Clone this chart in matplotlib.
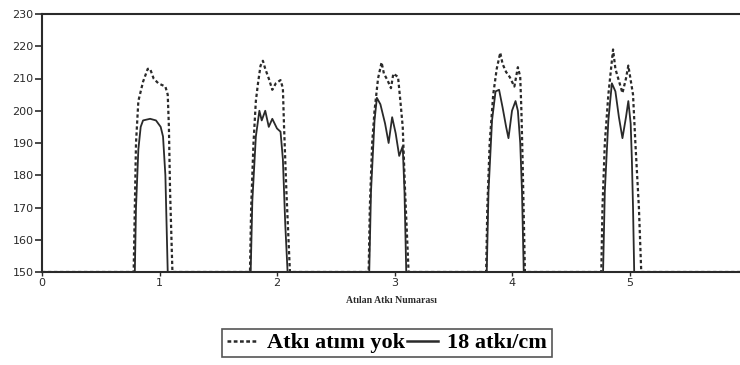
import matplotlib
matplotlib.use("Agg")
import matplotlib.pyplot as plt
from matplotlib.lines import Line2D

# Series: "Atkı atımı yok" (dashed)
x_yok = [0, 0.78, 0.79, 0.80, 0.82, 0.86, 0.90, 0.92, 0.95, 0.99, 1.05, 1.07, 1.08, 1.09, 1.11,
         1.77, 1.78, 1.80, 1.82, 1.84, 1.86, 1.88, 1.90, 1.93, 1.96, 1.99, 2.03, 2.05, 2.06, 2.08, 2.11,
         2.78, 2.79, 2.81, 2.83, 2.86, 2.89, 2.91, 2.94, 2.97, 2.99, 3.03, 3.05, 3.07, 3.09, 3.12,
         3.78, 3.79, 3.81, 3.84, 3.87, 3.90, 3.92, 3.95, 3.98, 4.02, 4.05, 4.07, 4.08, 4.09, 4.11,
         4.76, 4.77, 4.79, 4.82, 4.84, 4.86, 4.88, 4.90, 4.94, 4.97, 4.99, 5.01, 5.03, 5.05, 5.08, 5.10, 6.0]
y_yok = [150, 150, 170, 190, 203, 209, 213, 213, 210, 208.5, 207.5, 205, 195, 175, 150,
         150, 170, 190, 203, 209, 214, 215.5, 213, 210, 206.5, 208.5, 209.5, 207, 195, 175, 150,
         150, 170, 190, 200, 210, 215, 211.5, 209.5, 207, 211.5, 210.5, 203, 195, 175, 150,
         150, 170, 190, 205, 213, 218, 214.5, 212, 210.5, 207.5, 213.5, 210.5, 200, 185, 150,
         150, 170, 190, 205, 212, 219, 213, 210.5, 205.5, 210, 214, 209.5, 205, 190, 170, 150, 150]

# Series: "18 atkı/cm" (solid)
x_18 = [0, 0.79, 0.80, 0.82, 0.84, 0.86, 0.92, 0.97, 1.01, 1.03, 1.05, 1.07,
        1.776, 1.79, 1.82, 1.85, 1.87, 1.90, 1.93, 1.96, 2.00, 2.03, 2.05, 2.07, 2.09,
        2.785, 2.80, 2.83, 2.85, 2.88, 2.92, 2.95, 2.98, 3.01, 3.04, 3.07, 3.085, 3.10,
        3.785, 3.80, 3.83, 3.86, 3.89, 3.92, 3.95, 3.97, 4.00, 4.03, 4.05, 4.07, 4.085, 4.10,
        4.775, 4.79, 4.82, 4.85, 4.88, 4.91, 4.94, 4.97, 4.99, 5.01, 5.02, 5.03, 5.04, 6.0]
y_18 = [150, 150, 170, 188, 195, 197, 197.5, 197, 195, 192, 180, 150,
        150, 172, 192, 200, 197, 200, 195, 197.5, 194.5, 193.5, 185, 165, 150,
        150, 175, 197, 204, 202, 196, 190, 198, 193, 186, 189, 175, 150,
        150, 175, 197, 206, 206.5, 201, 195, 191.5, 200, 203, 200, 190, 175, 150,
        150, 175, 197, 208.5, 206, 198, 191.5, 198, 203, 196, 185, 170, 150, 150]

yticks = list(range(150, 231, 10))
xticks = [0, 1, 2, 3, 4, 5]
xlabel = "Atılan Atkı Numarası"
labels = ["Atkı atımı yok", "18 atkı/cm"]

ink = "#2a2a2a"
fig = plt.figure(figsize=(7.4, 3.65), dpi=100)
ax = fig.add_axes([42/740, 93/365, (740-42)/740, (272-14)/365])
ax.plot(x_yok, y_yok, color=ink, lw=1.6, linestyle=(0, (1.5, 1.2)))
ax.plot(x_18, y_18, color=ink, lw=1.3)
ax.set_xlim(0, (740-42)/117.5)
ax.set_ylim(150, 230)
ax.set_yticks(yticks)
ax.set_xticks(xticks)
ax.tick_params(axis="y", direction="out", length=5, width=1.2, color=ink, labelsize=8, labelcolor=ink, pad=1)
ax.tick_params(axis="x", direction="out", length=3, width=1.0, color=ink, labelsize=8, labelcolor=ink, pad=1)
for s in ["left", "bottom", "top"]:
    ax.spines[s].set_color(ink)
    ax.spines[s].set_linewidth(1.5)
ax.spines["right"].set_visible(False)
ax.set_xlabel(xlabel, fontsize=7, fontweight="bold", family="Liberation Serif", color=ink, labelpad=6)

handles = [Line2D([], [], color=ink, lw=1.8, linestyle=(0, (1.5, 1.0))),
           Line2D([], [], color=ink, lw=1.8)]
leg = fig.legend(handles, labels, loc="center", bbox_to_anchor=(387/740, 1 - 343/365), ncol=2,
                 prop={"family": "Liberation Serif", "weight": "bold", "size": 16},
                 frameon=True, fancybox=False, edgecolor=ink, handlelength=1.4,
                 handletextpad=0.4, columnspacing=0.1, borderpad=0.2, borderaxespad=0,
                 handleheight=0.5)
leg.get_frame().set_linewidth(1.2)
fig.savefig("out.png", dpi=100)
